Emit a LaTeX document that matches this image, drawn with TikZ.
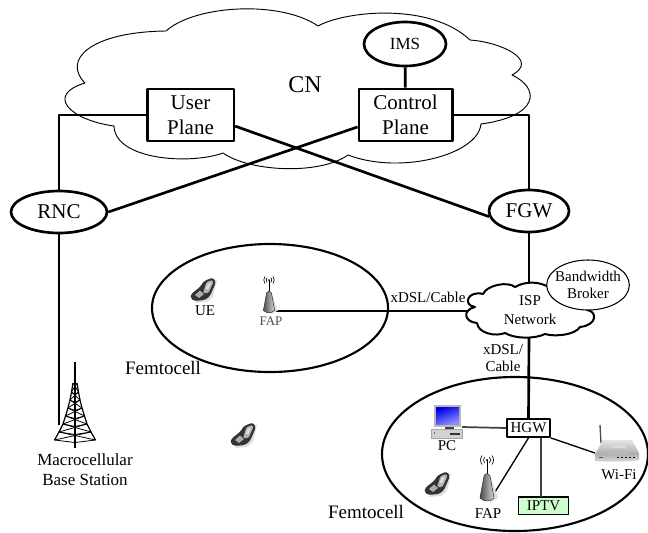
\documentclass[tikz,border=0pt]{standalone}
\usepackage{fontspec}
\setmainfont{Liberation Serif}
\usetikzlibrary{shapes.geometric}
\definecolor{iptvgreen}{RGB}{204,255,204}
\tikzset{
    phone/.pic={
        \fill[gray!25] (3,-8) -- (14,-10) -- (10,7) -- (4,12) -- (-8,13) -- cycle;
        \fill[black!80, rounded corners=2] (1,-9) -- (10,-12.5) -- (13,-8) -- (7,6) -- (2,10) -- (-9,11) -- (-12.5,8) -- (-12,4) -- (-3,-3) -- cycle;
        \fill[gray!60, rounded corners=1] (3.5,-8) -- (9.5,-10) -- (10.5,-8) -- (5.5,3) -- (0,3) -- cycle;
        \fill[gray!25] (4.5,-6) -- (8,-7.5) -- (5.5,-1) -- (2.5,-1) -- cycle;
        \fill[gray!65] (-8,5) -- (-3,0.5) -- (1,4) -- (-4,8) -- cycle;
    },
    fap/.pic={
        \draw[line width=0.6pt] (0,0) -- (0,14);
        \fill (0,0) circle[radius=1.1];
        \draw[line width=0.5pt] (-2.5,-3) .. controls (-3.8,-1) and (-3.8,1) .. (-2.5,3);
        \draw[line width=0.5pt] (2.5,-3) .. controls (3.8,-1) and (3.8,1) .. (2.5,3);
        \draw[line width=0.5pt] (-5,-4.5) .. controls (-7,-1.5) and (-7,1.5) .. (-5,4.5);
        \draw[line width=0.5pt] (5,-4.5) .. controls (7,-1.5) and (7,1.5) .. (5,4.5);
        \fill[gray!25] (4,18) -- (11,38) -- (3,43) -- cycle;
        \shade[left color=black!70, right color=gray!30, draw=black!80, line width=0.4pt] (-3,16) .. controls (-2,13) and (2,13) .. (3,16) -- (7,38) .. controls (3,42) and (-3,42) .. (-7,38) -- cycle;
    },
    pcset/.pic={
        \fill[gray!55] (-12.5,-16) rectangle (14.5,6);
        \shade[left color=blue!90!black, right color=blue!45, shading angle=20] (-10.5,-14) rectangle (12.5,3);
        \fill[black!75] (-2,6) rectangle (7,8);
        \fill[gray!35, draw=gray!70, line width=0.4pt] (-15.5,8) rectangle (15.5,17);
        \fill[green!70!black] (-13,11) rectangle (-11.5,12.5);
        \fill[black!80] (3,12) rectangle (13,13.5);
    },
    router/.pic={
        \draw[black!70, line width=1pt] (-17,-26) -- (-16,-8);
        \shade[top color=gray!20, bottom color=gray!65] (-22,3) -- (-14,-11) -- (15,-11) -- (22,2) -- cycle;
        \fill[gray!30] (-5,-6) -- (8,-6) -- (9,-3) -- (-6,-3) -- cycle;
        \shade[top color=gray!65, bottom color=gray!30] (-22,3) -- (22,2) -- (22,9) .. controls (10,11) and (-10,11) .. (-22,10) -- cycle;
        \fill[blue!40!gray] (-18,6) rectangle (-14,7);
        \foreach \px in {0,4,...,16} {
            \fill[blue!30!black] (\px,5.5) rectangle (\px+2,6.8);
        }
    },
}
\begin{document}
\begin{tikzpicture}[x=0.75pt, y=-0.75pt, line join=round,
        link/.style={line width=2pt},
        thinlink/.style={line width=1.3pt, black!75},
        txt/.style={font=\fontsize{11.25}{12.75}\selectfont, align=center, inner sep=0pt},
        bigtxt/.style={font=\fontsize{15.75}{18.75}\selectfont, align=center, inner sep=0pt},
        planebox/.style={draw, line width=2pt, fill=white, inner sep=0pt, minimum height=39pt, bigtxt},
        oval/.style={draw, ellipse, line width=2pt, fill=white, inner sep=0pt},
        cell/.style={draw, ellipse, line width=1.6pt, inner sep=0pt}]
    \useasboundingbox (0,0) rectangle (648,532);

    \draw[line width=0.7pt] (166,31) .. controls (195,5) and (280,0) .. (318,26)
        .. controls (345,11) and (430,2) .. (470,40)
        .. controls (500,42) and (540,60) .. (512,75)
        .. controls (540,88) and (540,116) .. (481,124)
        .. controls (478,155) and (400,175) .. (348,155)
        .. controls (320,175) and (250,172) .. (223,153)
        .. controls (190,165) and (115,160) .. (114,126)
        .. controls (70,120) and (45,95) .. (85,83)
        .. controls (62,60) and (90,32) .. (166,31) -- cycle;
    \node[font=\fontsize{18}{20}\selectfont, inner sep=0pt] (cn) at (305,85) {CN};

    \node[cell, minimum width=177pt, minimum height=96pt] (cella) at (270,308) {};
    \node[cell, minimum width=199.5pt, minimum height=115.5pt] (cellb) at (515,454) {};

    \node[planebox, minimum width=65pt] (user) at (190.5,115) {User\\Plane};
    \node[planebox, minimum width=70pt] (control) at (405.5,115) {Control\\Plane};
    \node[oval, minimum width=61.5pt, minimum height=33pt, font=\fontsize{12.75}{14}\selectfont] (ims) at (405,44) {IMS};
    \node[oval, minimum width=72pt, minimum height=31.5pt, font=\fontsize{15.75}{18}\selectfont] (rnc) at (59,212) {RNC};
    \node[oval, minimum width=60pt, minimum height=31.5pt, font=\fontsize{15.75}{18}\selectfont] (fgw) at (529,211) {FGW};

    \coordinate (ispn) at (529,284);
    \coordinate (ispw) at (467,311);
    \coordinate (isps) at (529,337);
    \coordinate (towerc) at (59,425);
    \coordinate (fapa) at (275,311);
    \coordinate (fapb) at (495,492);
    \coordinate (pc) at (462,427);
    \coordinate (wifi) at (595,453);
    \coordinate (iptvtop) at (541,497);

    \draw[link] (ims) -- (control);
    \draw[link] (user.west) -| (rnc.north);
    \draw[link] (control.east) -| (fgw.north);
    \draw[link] (user.346) -- (fgw.188);
    \draw[link] (control.194.5) -- (rnc.east);
    \draw[link] (rnc.south) -- (towerc);
    \draw[link] (fgw.south) -- (ispn);
    \draw[link] (fapa) -- (ispw);

    \draw[line width=1.5pt, fill=white] (475,307) .. controls (462,305) and (468,290) .. (483,294)
        .. controls (487,285) and (508,281) .. (515,287)
        .. controls (525,281) and (540,281) .. (550,288)
        .. controls (565,290) and (580,300) .. (587,310)
        .. controls (597,311) and (598,325) .. (580,327)
        .. controls (575,335) and (555,337) .. (545,334)
        .. controls (535,339) and (515,339) .. (505,333)
        .. controls (495,337) and (478,333) .. (477,323)
        .. controls (464,322) and (462,310) .. (475,307) -- cycle;
    \node[oval, line width=0.8pt, minimum width=62pt, minimum height=37.5pt] (broker) at (588,285) {};
    \node[txt] (brokertxt) at (588,285) {Bandwidth\\Broker};
    \node[font=\fontsize{11.25}{13.8}\selectfont, align=center, inner sep=0pt] (isp) at (530,310) {ISP\\Network};

    \node[draw, line width=1.3pt, fill=white, minimum width=32pt, minimum height=13.5pt, inner sep=0pt, txt] (hgw) at (528.5,428) {HGW};
    \node[draw, line width=0.8pt, fill=iptvgreen, minimum width=37pt, minimum height=12.8pt, inner sep=0pt, txt] (iptv) at (543.5,505.5) {IPTV};

    \draw[link] (isps) -- (hgw.north);
    \draw[thinlink] (pc) -- (hgw.west);
    \draw[line width=1pt] (hgw.south) -- (fapb);
    \draw[thinlink] (iptvtop |- hgw.south) -- (iptvtop);
    \draw[line width=1pt] (hgw.south east) -- (wifi);

    \pic at (203,290) {phone};
    \pic at (243,435) {phone};
    \pic at (437,484) {phone};
    \pic[scale=0.8] at (269,280) {fap};
    \pic at (487,460) {fap};
    \pic at (446.5,421) {pcset};
    \pic at (617,451) {router};

    \draw[line width=1.3pt] (75,362) -- (75,448);
    \foreach \ya/\wa/\yb/\wb in {383/2/392/3.5, 392/3.5/400/5, 400/5/408/7, 408/7/416/9.5, 416/9.5/424/12, 424/12/432/16, 432/16/440/20.5} {
        \draw[line width=0.9pt] (75-\wa,\ya) -- (75-\wb,\yb);
        \draw[line width=0.9pt] (75+\wa,\ya) -- (75+\wb,\yb);
        \draw[line width=0.6pt] (75-\wa,\ya) -- (75+\wb,\yb);
        \draw[line width=0.6pt] (75+\wa,\ya) -- (75-\wb,\yb);
        \draw[line width=0.6pt] (75-\wb,\yb) -- (75,\yb+2.5) -- (75+\wb,\yb);
    }

    \node[font=\fontsize{12.75}{15}\selectfont, align=center, inner sep=0pt] (macro) at (85,470) {Macrocellular\\Base Station};
    \node[font=\fontsize{14.25}{16}\selectfont, inner sep=0pt] (cellatxt) at (163,368) {Femtocell};
    \node[font=\fontsize{14.25}{16}\selectfont, inner sep=0pt] (cellbtxt) at (366,512) {Femtocell};
    \node[txt] (ue) at (205,311) {UE};
    \node[font=\fontsize{9.75}{11}\selectfont, black!70, inner sep=0pt] (fapatxt) at (271,321) {FAP};
    \node[txt] (fapbtxt) at (488,514) {FAP};
    \node[txt] (pctxt) at (447,446) {PC};
    \node[txt] (wifitxt) at (619,475) {Wi-Fi};
    \node[txt] (dsla) at (428,297) {xDSL/Cable};
    \node[txt] (dslb) at (503,358) {xDSL/\\Cable};
\end{tikzpicture}
\end{document}
